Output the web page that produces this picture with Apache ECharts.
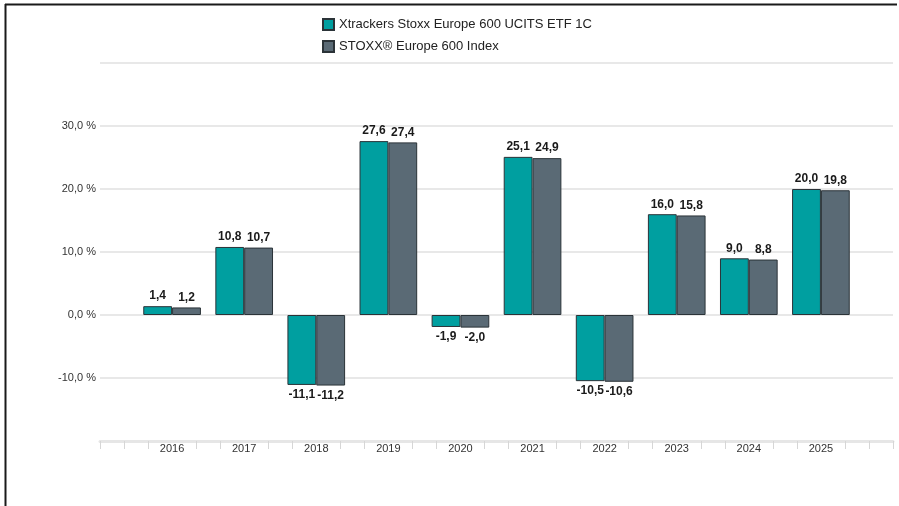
<!DOCTYPE html>
<html>
<head>
<meta charset="utf-8">
<script src="https://cdn.jsdelivr.net/npm/echarts@6/dist/echarts.min.js"></script>
<style>
html,body{margin:0;padding:0;background:#fff;}
#chart{width:899px;height:506px;}
</style>
</head>
<body>
<div id="chart"></div>
<script>
var years = ['2016','2017','2018','2019','2020','2021','2022','2023','2024','2025'];
var etfName = 'Xtrackers Stoxx Europe 600 UCITS ETF 1C';
var idxName = 'STOXX\u00AE Europe 600 Index';
var etfValues = [1.4, 10.8, -11.1, 27.6, -1.9, 25.1, -10.5, 16.0, 9.0, 20.0];
var idxValues = [1.2, 10.7, -11.2, 27.4, -2.0, 24.9, -10.6, 15.8, 8.8, 19.8];
var yTicksShown = [-10, 0, 10, 20, 30];

var FONT = '"Liberation Sans", Arial, sans-serif';
function fmt(v){ return v.toFixed(1).replace('.', ','); }

// category axis padded by an empty slot on each side
var cats = [''].concat(years).concat(['']);
function pad(arr){
  return [null].concat(arr.map(function(v){
    return {value: v, label: {position: v < 0 ? 'bottom' : 'top'}};
  })).concat([null]);
}
// fine tick slots (3 per category)
var slotCount = (cats.length - 1) * 3 + 1;
var slots = [];
for (var i = 0; i < slotCount; i++) slots.push(String(i));

var chart = echarts.init(document.getElementById('chart'));
var labelCfg = {
  show: true,
  distance: 4,
  fontFamily: FONT,
  fontSize: 12,
  fontWeight: 'bold',
  color: '#1a1a1a',
  formatter: function(p){ return fmt(p.value); }
};
chart.setOption({
  animation: false,
  textStyle: {fontFamily: FONT},
  legend: {
    orient: 'vertical',
    left: 322,
    top: 18,
    padding: 0,
    icon: 'rect',
    itemWidth: 11,
    itemHeight: 11,
    itemGap: 9,
    textStyle: {fontFamily: FONT, fontSize: 13, color: '#222'},
    data: [etfName, idxName]
  },
  grid: {left: 100, right: 6, top: 63, bottom: 65, containLabel: false},
  xAxis: [{
    type: 'category',
    data: cats,
    boundaryGap: false,
    position: 'bottom',
    axisLine: {show: false},
    axisTick: {show: false},
    splitLine: {show: false},
    axisLabel: {interval: 0, margin: 2, fontFamily: FONT, fontSize: 11, color: '#333'}
  }, {
    type: 'category',
    data: slots,
    boundaryGap: false,
    position: 'bottom',
    axisLine: {show: true, lineStyle: {color: '#e6e6e6', width: 3}},
    axisTick: {
      show: true, length: 8,
      lineStyle: {color: '#d6d6d6', width: 1},
      interval: function(index){ return index % 3 !== 0 || index === 0 || index === slotCount - 1; }
    },
    axisLabel: {show: false},
    splitLine: {show: false}
  }],
  yAxis: {
    type: 'value',
    min: -20,
    max: 40,
    interval: 10,
    axisLine: {show: false},
    axisTick: {show: false},
    splitLine: {show: true, lineStyle: {color: '#e8e8e8', width: 2}},
    axisLabel: {
      margin: 4,
      fontFamily: FONT, fontSize: 11, color: '#333',
      formatter: function(v){ return yTicksShown.indexOf(v) >= 0 ? fmt(v) + ' %' : ''; }
    }
  },
  series: [{
    name: etfName,
    type: 'bar',
    xAxisIndex: 0,
    barWidth: '40%',
    barGap: '0%',
    itemStyle: {color: '#009fa0', borderColor: '#2b3338', borderWidth: 1},
    label: labelCfg,
    data: pad(etfValues)
  }, {
    name: idxName,
    type: 'bar',
    xAxisIndex: 0,
    barWidth: '40%',
    barGap: '0%',
    itemStyle: {color: '#5a6a75', borderColor: '#2b3338', borderWidth: 1},
    label: labelCfg,
    data: pad(idxValues)
  }],
  graphic: [{
    type: 'line',
    shape: {x1: 5, y1: 4.5, x2: 897, y2: 4.5},
    style: {stroke: '#1a1a1a', lineWidth: 2}
  }, {
    type: 'line',
    shape: {x1: 5.5, y1: 4, x2: 5.5, y2: 506},
    style: {stroke: '#1a1a1a', lineWidth: 2}
  }]
});
</script>
</body>
</html>
